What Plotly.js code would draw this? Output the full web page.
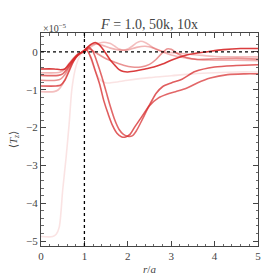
<!DOCTYPE html>
<html>
<head>
<meta charset="utf-8">
<script src="https://cdn.plot.ly/plotly-3.0.1.min.js"></script>
<style>html,body{margin:0;padding:0;background:#fff;}#chart{width:277px;height:277px;}</style>
</head>
<body>
<div id="chart"></div>
<script>
// Curve data (r/a, <T_z> in units of 1e-5)
const xA = [0, 0.3, 0.45, 0.55, 0.65, 0.75, 0.85, 0.95, 1.05, 1.15, 1.25, 1.35, 1.47, 1.6, 1.7, 1.8, 1.9, 2.0, 2.2, 2.4, 2.6, 2.8, 3.0, 3.3, 3.6, 3.8, 4.2, 4.6, 5.0];
const yA = [-0.45, -0.45, -0.47, -0.45, -0.32, -0.18, -0.07, 0.0, 0.1, 0.2, 0.25, 0.18, 0.0, -0.22, -0.35, -0.47, -0.52, -0.53, -0.5, -0.45, -0.4, -0.32, -0.22, -0.1, -0.03, 0.0, 0.06, 0.09, 0.09];

const xB1 = [0, 0.35, 0.45, 0.55, 0.65, 0.75, 0.85, 0.95, 1.05, 1.15, 1.25, 1.35, 1.45, 1.55, 1.65, 1.75, 1.85, 1.95, 2.05, 2.15, 2.3, 2.5, 2.65, 2.8, 3.0, 3.25, 3.55, 4.0, 4.5, 5.0];
const yB1 = [-0.9, -0.9, -0.88, -0.75, -0.5, -0.25, -0.08, 0.0, 0.05, -0.15, -0.5, -0.85, -1.3, -1.65, -1.95, -2.15, -2.24, -2.25, -2.18, -2.0, -1.75, -1.4, -1.1, -0.92, -0.82, -0.72, -0.52, -0.4, -0.36, -0.34];

const xB2 = [0, 0.4, 0.5, 0.6, 0.7, 0.8, 0.9, 1.0, 1.1, 1.2, 1.3, 1.4, 1.5, 1.6, 1.7, 1.8, 1.9, 2.0, 2.1, 2.2, 2.35, 2.5, 2.7, 2.9, 3.1, 3.35, 3.6, 3.9, 4.3, 4.7, 5.0];
const yB2 = [-0.62, -0.62, -0.58, -0.45, -0.3, -0.15, -0.05, 0.02, 0.12, 0.0, -0.3, -0.65, -1.05, -1.45, -1.8, -2.05, -2.18, -2.23, -2.22, -2.08, -1.75, -1.42, -1.22, -1.12, -1.05, -0.96, -0.82, -0.69, -0.6, -0.58, -0.58];

const xC = [0, 0.3, 0.4, 0.5, 0.6, 0.7, 0.8, 0.9, 1.0, 1.1, 1.2, 1.3, 1.4, 1.5, 1.6, 1.7, 1.8, 1.9, 2.0, 2.1, 2.2, 2.3, 2.4, 2.5, 2.6, 2.7, 2.85, 3.0, 3.3, 3.6, 4.0, 4.5, 5.0];
const yC = [-1.05, -1.05, -1.0, -0.85, -0.6, -0.35, -0.15, -0.03, 0.02, 0.1, 0.17, 0.22, 0.25, 0.25, 0.22, 0.15, 0.08, 0.05, 0.08, 0.15, 0.24, 0.28, 0.25, 0.18, 0.1, 0.05, 0.0, -0.02, -0.05, -0.08, -0.12, -0.13, -0.13];

const xD = [0, 0.35, 0.45, 0.55, 0.65, 0.75, 0.85, 0.95, 1.1, 1.3, 1.5, 1.7, 1.9, 2.1, 2.3, 2.5, 2.65, 2.8, 2.9, 3.0, 3.15, 3.35, 3.6, 4.0, 4.5, 5.0];
const yD = [-0.75, -0.75, -0.72, -0.6, -0.4, -0.2, -0.06, 0.0, 0.08, -0.05, -0.18, -0.27, -0.35, -0.4, -0.4, -0.33, -0.2, -0.02, 0.08, 0.07, -0.05, -0.15, -0.2, -0.18, -0.17, -0.19];

const xE = [0, 0.35, 0.45, 0.55, 0.65, 0.75, 0.85, 0.95, 1.1, 1.25, 1.4, 1.6, 1.8, 2.0, 2.2, 2.4, 2.6, 2.8, 3.0, 3.3, 3.6, 4.0, 4.5, 5.0];
const yE = [-0.55, -0.55, -0.53, -0.45, -0.3, -0.16, -0.05, 0.0, 0.15, 0.22, 0.18, 0.1, 0.05, 0.05, 0.12, 0.15, 0.1, 0.0, -0.08, -0.15, -0.2, -0.22, -0.22, -0.23];

const xF = [0, 0.27, 0.35, 0.42, 0.5, 0.58, 0.65, 0.71, 0.78, 0.85, 0.92, 1.0, 1.07, 1.15, 1.25, 1.35, 1.5, 1.7, 2.0, 2.5, 3.0, 3.5, 4.0, 4.5, 5.0];
const yF = [-4.88, -4.88, -4.82, -4.63, -3.65, -2.77, -1.88, -1.0, -0.5, -0.22, -0.06, 0.0, 0.05, -0.2, -0.5, -0.72, -0.82, -0.8, -0.75, -0.68, -0.63, -0.58, -0.55, -0.53, -0.53];

const series = [
  {x: xF, y: yF, a: 0.13},
  {x: xC, y: yC, a: 0.3},
  {x: xE, y: yE, a: 0.35},
  {x: xD, y: yD, a: 0.5},
  {x: xB2, y: yB2, a: 0.7},
  {x: xB1, y: yB1, a: 0.75},
  {x: xA, y: yA, a: 0.9}
];

const xTickVals = [0, 1, 2, 3, 4, 5];
const yTickVals = [0, -1, -2, -3, -4, -5];
const yTickText = ['0', '\u22121', '\u22122', '\u22123', '\u22124', '\u22125'];

const traces = series.map(s => ({
  x: s.x, y: s.y, type: 'scatter', mode: 'lines',
  line: {color: 'rgba(214,39,40,' + s.a + ')', width: 1.6, shape: 'spline', smoothing: 0.8},
  hoverinfo: 'skip', showlegend: false
}));

const font = 'Liberation Serif, DejaVu Serif, serif';
const axCommon = {
  showline: true, linecolor: '#444', linewidth: 1, mirror: 'ticks',
  ticks: 'inside', ticklen: 5, tickwidth: 1, tickcolor: '#444',
  showgrid: false, zeroline: false,
  tickfont: {family: font, size: 11, color: '#444'},
  minor: {ticks: 'inside', ticklen: 2.5, tickwidth: 0.8, tickcolor: '#444', dtick: 0.2, showgrid: false}
};

const layout = {
  width: 277, height: 277,
  margin: {l: 41, r: 19, t: 33, b: 31, pad: 0},
  paper_bgcolor: '#fff', plot_bgcolor: '#fff',
  title: {text: '<i>F</i> = 1.0, 50k, 10x', font: {family: font, size: 14, color: '#444'}, x: 0.54, xanchor: 'center', y: 0.912, yanchor: 'middle'},
  xaxis: Object.assign({}, axCommon, {
    range: [0, 5], tickvals: xTickVals, ticktext: xTickVals.map(String),
    title: {text: '<i>r</i>/<i>a</i>', font: {family: font, size: 11, color: '#444'}, standoff: 4}
  }),
  yaxis: Object.assign({}, axCommon, {
    range: [-5.13, 0.5], tickvals: yTickVals, ticktext: yTickText,
    title: {text: '\u27e8<i>T<sub>z</sub></i>\u27e9', font: {family: font, size: 11, color: '#444'}, standoff: 6}
  }),
  shapes: [
    {type: 'line', xref: 'paper', yref: 'y', x0: 0, x1: 1, y0: 0, y1: 0, line: {color: '#000', width: 1.3, dash: 'dot'}},
    {type: 'line', xref: 'x', yref: 'paper', x0: 1, x1: 1, y0: 0, y1: 1, line: {color: '#000', width: 1.3, dash: 'dot'}}
  ],
  annotations: [
    {text: '\u00d710<sup>\u22125</sup>', xref: 'paper', yref: 'paper', x: 0, y: 1, xanchor: 'left', yanchor: 'bottom', showarrow: false, font: {family: font, size: 10, color: '#444'}, yshift: -3}
  ]
};

Plotly.newPlot('chart', traces, layout, {staticPlot: true, displayModeBar: false});
</script>
</body>
</html>
